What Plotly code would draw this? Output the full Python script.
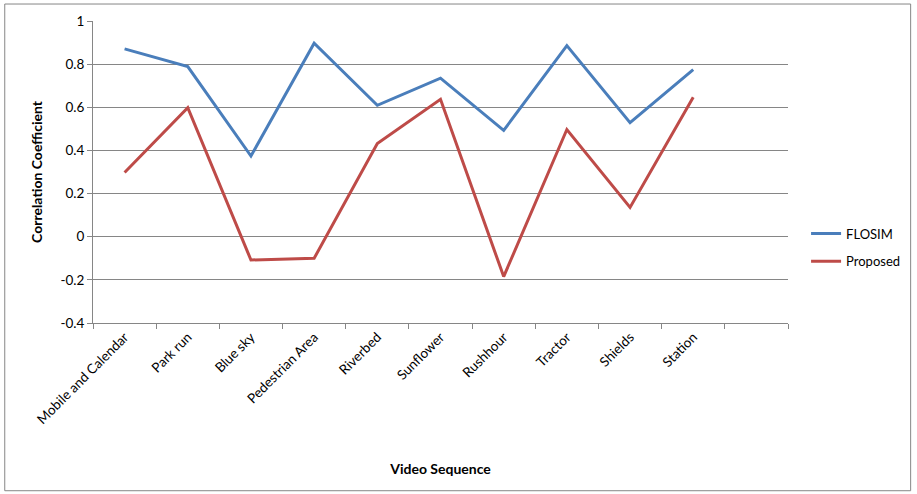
import plotly.graph_objects as go

categories = ["Mobile and Calendar", "Park run", "Blue sky", "Pedestrian Area", "Riverbed",
              "Sunflower", "Rushhour", "Tractor", "Shields", "Station"]
flosim = [0.871, 0.789, 0.374, 0.897, 0.609, 0.735, 0.493, 0.886, 0.529, 0.775]
proposed = [0.298, 0.598, -0.108, -0.100, 0.432, 0.637, -0.185, 0.497, 0.136, 0.647]
y_ticks = [-0.4, -0.2, 0, 0.2, 0.4, 0.6, 0.8, 1]
y_labels = ["-0.4", "-0.2", "0", "0.2", "0.4", "0.6", "0.8", "1"]

FONT = "Lato, 'Open Sans', sans-serif"
axis_cats = categories + [" "]

fig = go.Figure()
fig.add_trace(go.Scatter(x=categories, y=flosim, mode="lines", name="FLOSIM",
                         legendgroup="a",
                         line=dict(color="#4A7EBB", width=3)))
fig.add_trace(go.Scatter(x=categories, y=proposed, mode="lines", name="Proposed",
                         legendgroup="b",
                         line=dict(color="#BE4B48", width=3)))
fig.add_trace(go.Scatter(x=[" "], y=[None], mode="lines", showlegend=False, hoverinfo="skip"))

fig.update_layout(
    width=917, height=494,
    margin=dict(l=93, r=127, t=20.5, b=171),
    paper_bgcolor="white", plot_bgcolor="white",
    font=dict(family=FONT, size=12, color="black"),
    showlegend=True,
    legend=dict(x=1.026, y=0.25, xanchor="left", yanchor="middle",
                font=dict(family=FONT, size=13), tracegroupgap=8,
                bgcolor="rgba(0,0,0,0)"),
    xaxis=dict(type="category", categoryorder="array", categoryarray=axis_cats,
               range=[-0.5, 10.5], tickson="boundaries", ticks="outside", ticklen=5,
               tickcolor="#868686", showline=True, linecolor="#868686", linewidth=1,
               showgrid=False, tickangle=-45, tickfont=dict(family=FONT, size=13.5),
               title=dict(text="<b>Video Sequence</b>", font=dict(family=FONT, size=14),
                          standoff=38)),
    yaxis=dict(range=[-0.4, 1], tickvals=y_ticks, ticktext=y_labels, ticks="outside",
               ticklen=5, tickcolor="#868686", showline=True, linecolor="#868686",
               linewidth=1, showgrid=True, gridcolor="#868686", gridwidth=1,
               zeroline=False, tickfont=dict(family=FONT, size=13.5),
               title=dict(text="<b>Correlation Coefficient</b>",
                          font=dict(family=FONT, size=14), standoff=14)),
    shapes=[dict(type="rect", xref="paper", yref="paper",
                 x0=(4.5 - 93) / 697, x1=(913 - 93) / 697,
                 y0=(323 - 491) / 302.5, y1=(323 - 3.5) / 302.5,
                 line=dict(color="#868686", width=1), layer="below")],
)

fig.write_html("out.html")
